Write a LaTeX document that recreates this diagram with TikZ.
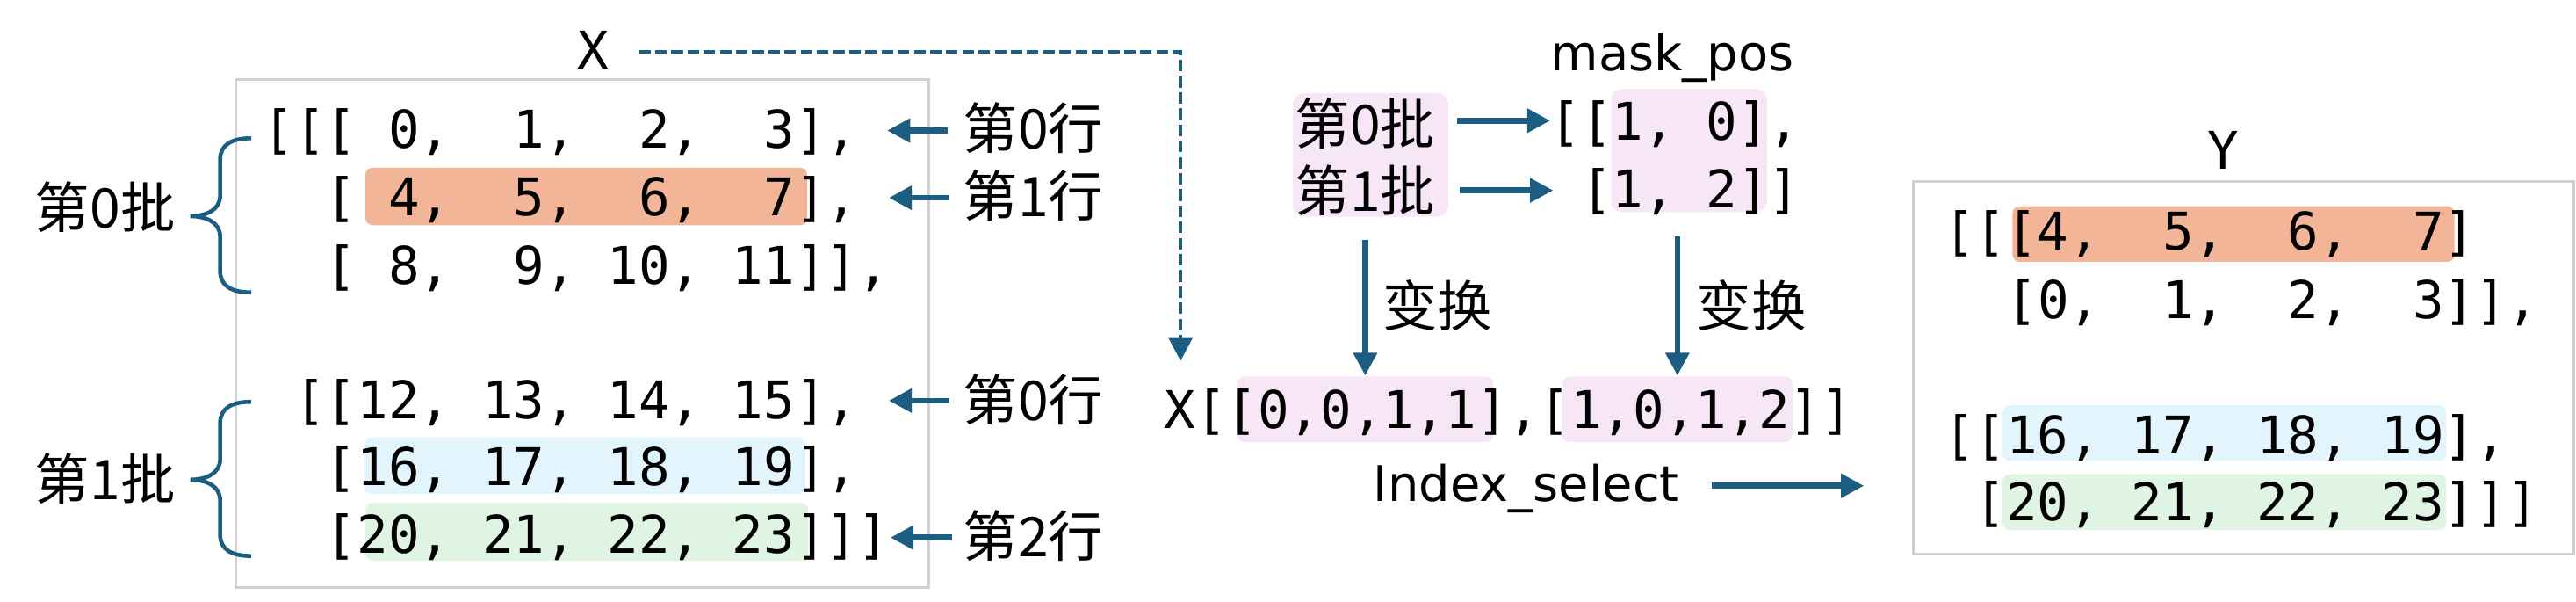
\documentclass[tikz,border=0pt]{standalone}
\usepackage{fontspec}
\setmonofont{DejaVu Sans Mono}
\newfontfamily\cjk{Noto Sans CJK SC}
\newfontfamily\labfont{DejaVu Sans}
\usetikzlibrary{arrows.meta}
\definecolor{teal}{RGB}{27,94,130}
\definecolor{hlorange}{RGB}{243,181,152}
\definecolor{hlblue}{RGB}{226,244,252}
\definecolor{hlgreen}{RGB}{223,244,226}
\definecolor{hlpink}{RGB}{247,230,246}
\definecolor{boxgray}{RGB}{208,208,208}
\tikzset{
  mono/.style={inner sep=0pt, anchor=base west, font=\ttfamily\fontsize{18pt}{18pt}\selectfont},
  cjklab/.style={inner sep=0pt, anchor=center, font=\cjk\fontsize{19pt}{19pt}\selectfont},
  sanslab/.style={inner sep=0pt, anchor=base, font=\labfont\fontsize{17pt}{17pt}\selectfont},
  arr/.style={draw=teal, line width=2pt, -{Triangle[length=0.28cm,width=0.28cm]}},
  darr/.style={draw=teal, line width=1.4pt, dash pattern=on 4pt off 1.6pt, -{Triangle[length=0.28cm,width=0.28cm]}},
  bracepath/.style={draw=teal, line width=1.4pt},
  frame/.style={draw=boxgray, line width=0.8pt},
  hl/.style={rounded corners=2.5pt},
}
\begin{document}
\begin{tikzpicture}[x=0.02cm,y=-0.02cm]
\useasboundingbox (0,0) rectangle (1568,366);

% frames
\draw[frame] (143.5,48.5) rectangle (565.5,357.5);
\draw[frame] (1164.6,110.5) rectangle (1566.8,337);

% highlights
\fill[hlorange,hl] (222.4,102) rectangle (491.3,137);
\fill[hlblue,hl] (222,266) rectangle (490,300.5);
\fill[hlgreen,hl] (222.4,306) rectangle (492,341);
\fill[hlpink,rounded corners=4pt] (786.8,56.7) rectangle (881.6,131.9);
\fill[hlpink,rounded corners=4pt] (980.6,54) rectangle (1075.6,129);
\fill[hlpink,hl] (753,229) rectangle (909,269);
\fill[hlpink,hl] (951,229) rectangle (1091,269);
\fill[hlorange,hl] (1225,125.4) rectangle (1494,159.3);
\fill[hlblue,hl] (1219,246.4) rectangle (1489,280.3);
\fill[hlgreen,hl] (1219,288.5) rectangle (1489,322.4);

% left tensor X
\node[mono] (x1) at (159.9,90) {[[[~0,~~1,~~2,~~3],};
\node[mono] (x2) at (159.9,131.5) {~~[~4,~~5,~~6,~~7],};
\node[mono] (x3) at (159.9,172.8) {~~[~8,~~9,~10,~11]],};
\node[mono] (x4) at (159.9,254.6) {~[[12,~13,~14,~15],};
\node[mono] (x5) at (159.9,295.6) {~~[16,~17,~18,~19],};
\node[mono] (x6) at (159.9,336.4) {~~[20,~21,~22,~23]]]};

% labels X and Y
\node[mono, anchor=base] (Xlbl) at (361,41.9) {X};
\node[mono, anchor=base] (Ylbl) at (1353,103) {Y};

% batch braces and labels
\foreach \dy in {0,160.3}{
  \draw[bracepath] (152.9,84.1+\dy) .. controls (141,84.1+\dy) and (134,88+\dy) .. (134,97+\dy)
    -- (134,119+\dy) .. controls (134,128+\dy) and (125,131.5+\dy) .. (115.8,131.5+\dy)
    .. controls (125,131.5+\dy) and (134,135+\dy) .. (134,144+\dy)
    -- (134,165+\dy) .. controls (134,174+\dy) and (141,177.9+\dy) .. (152.9,177.9+\dy);
}
\node[cjklab] (b0) at (64,126) {第0批};
\node[cjklab] (b1) at (64,291) {第1批};

% row labels and arrows
\node[cjklab] (r0a) at (629,78) {第0行};
\node[cjklab] (r1a) at (629,119) {第1行};
\node[cjklab] (r0b) at (629,243) {第0行};
\node[cjklab] (r2b) at (629,326) {第2行};
\coordinate (ra1s) at (577,79.4);  \coordinate (ra1e) at (540,79.4);
\coordinate (ra2s) at (577.5,120.3); \coordinate (ra2e) at (541,120.3);
\coordinate (ra4s) at (578,243.7); \coordinate (ra4e) at (541,243.7);
\coordinate (ra6s) at (579.5,327); \coordinate (ra6e) at (542,327);
\draw[arr] (ra1s) -- (ra1e);
\draw[arr] (ra2s) -- (ra2e);
\draw[arr] (ra4s) -- (ra4e);
\draw[arr] (ra6s) -- (ra6e);

% dashed connector from X to the index expression
\coordinate (ds) at (389,31.5);
\coordinate (de) at (718.6,219.6);
\draw[darr] (ds) -| (de);

% middle part
\node[cjklab] (mb0) at (831,75) {第0批};
\node[cjklab] (mb1) at (831,116) {第1批};
\node[sanslab] (mp) at (1018,43.2) {mask\_pos};
\node[mono] (m1) at (942.9,85) {[[1,~0],};
\node[mono] (m2) at (942.9,126.2) {~[1,~2]]};
\coordinate (a0s) at (887,73.4); \coordinate (a0e) at (943.6,73.4);
\coordinate (a1s) at (888.7,115.8); \coordinate (a1e) at (945.4,115.8);
\draw[arr] (a0s) -- (a0e);
\draw[arr] (a1s) -- (a1e);

\node[mono] (xi) at (708.2,260.5) {X[[0,0,1,1],[1,0,1,2]]};
\coordinate (d1s) at (831,146); \coordinate (d1e) at (831,228.5);
\coordinate (d2s) at (1021,144); \coordinate (d2e) at (1021,228.5);
\draw[arr] (d1s) -- (d1e);
\draw[arr] (d2s) -- (d2e);
\node[cjklab] (t1) at (875,186) {变换};
\node[cjklab] (t2) at (1066,186) {变换};

\node[sanslab] (isel) at (929,305) {Index\_select};
\coordinate (iss) at (1042,295.5); \coordinate (ise) at (1134.6,295.5);
\draw[arr] (iss) -- (ise);

% right tensor Y
\node[mono] (y1) at (1182.8,152) {[[[4,~~5,~~6,~~7]};
\node[mono] (y2) at (1182.8,194) {~~[0,~~1,~~2,~~3]],};
\node[mono] (y3) at (1182.8,276) {[[16,~17,~18,~19],};
\node[mono] (y4) at (1182.8,316.5) {~[20,~21,~22,~23]]]};
\end{tikzpicture}
\end{document}
